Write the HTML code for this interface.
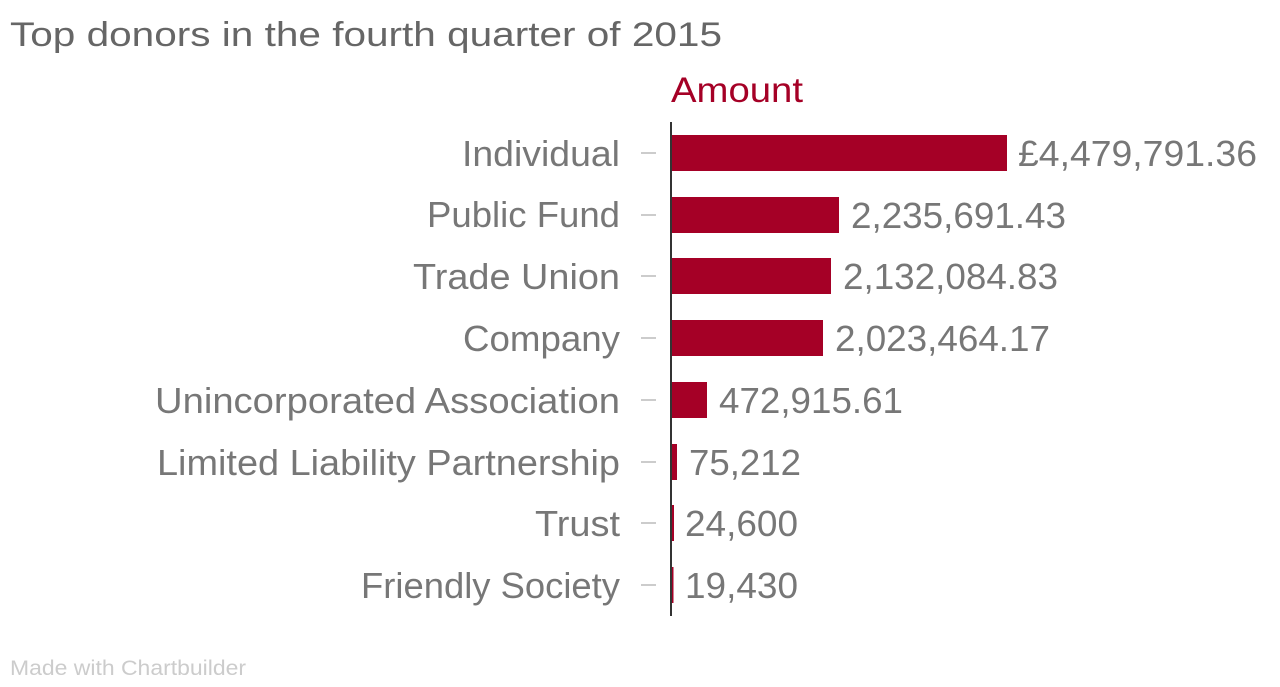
<!DOCTYPE html>
<html><head><style>
body{margin:0;width:1280px;height:682px;background:#fff;overflow:hidden;font-family:"Liberation Sans",sans-serif;}
</style></head><body>
<svg width="1280" height="682" xmlns="http://www.w3.org/2000/svg" font-family="Liberation Sans, sans-serif">
<text x="10" y="46" font-size="34" fill="#666" textLength="712" lengthAdjust="spacingAndGlyphs">Top donors in the fourth quarter of 2015</text>
<text x="671" y="102" font-size="35" fill="#a50026" textLength="132" lengthAdjust="spacingAndGlyphs">Amount</text>
<line x1="671" y1="122" x2="671" y2="616" stroke="#333" stroke-width="2"/>
<g font-size="36" fill="#777">
<g text-anchor="end">
<text x="620" y="166" textLength="158" lengthAdjust="spacingAndGlyphs">Individual</text>
<text x="620" y="227" textLength="193" lengthAdjust="spacingAndGlyphs">Public Fund</text>
<text x="620" y="289" textLength="207" lengthAdjust="spacingAndGlyphs">Trade Union</text>
<text x="620" y="351" textLength="157" lengthAdjust="spacingAndGlyphs">Company</text>
<text x="620" y="413" textLength="465" lengthAdjust="spacingAndGlyphs">Unincorporated Association</text>
<text x="620" y="475" textLength="463" lengthAdjust="spacingAndGlyphs">Limited Liability Partnership</text>
<text x="620" y="536" textLength="85" lengthAdjust="spacingAndGlyphs">Trust</text>
<text x="620" y="598" textLength="259" lengthAdjust="spacingAndGlyphs">Friendly Society</text>
</g>
<g stroke="#ccc" stroke-width="2">
<line x1="641" x2="656" y1="153" y2="153"/><line x1="641" x2="656" y1="215" y2="215"/>
<line x1="641" x2="656" y1="276" y2="276"/><line x1="641" x2="656" y1="338" y2="338"/>
<line x1="641" x2="656" y1="400" y2="400"/><line x1="641" x2="656" y1="462" y2="462"/>
<line x1="641" x2="656" y1="523" y2="523"/><line x1="641" x2="656" y1="585" y2="585"/>
</g>
<g fill="#a50026">
<rect x="672" y="135" width="335" height="36"/>
<rect x="672" y="197" width="167" height="36"/>
<rect x="672" y="258" width="159" height="36"/>
<rect x="672" y="320" width="151" height="36"/>
<rect x="672" y="382" width="35" height="36"/>
<rect x="672" y="444" width="5" height="36"/>
<rect x="672" y="505" width="2" height="36"/>
<rect x="672" y="567" width="1.5" height="36"/>
</g>
<text x="1018" y="166" textLength="239" lengthAdjust="spacingAndGlyphs">£4,479,791.36</text>
<text x="851" y="228" textLength="215" lengthAdjust="spacingAndGlyphs">2,235,691.43</text>
<text x="843" y="289" textLength="215" lengthAdjust="spacingAndGlyphs">2,132,084.83</text>
<text x="835" y="351" textLength="215" lengthAdjust="spacingAndGlyphs">2,023,464.17</text>
<text x="719" y="413" textLength="184" lengthAdjust="spacingAndGlyphs">472,915.61</text>
<text x="689" y="475" textLength="112" lengthAdjust="spacingAndGlyphs">75,212</text>
<text x="685" y="536" textLength="113" lengthAdjust="spacingAndGlyphs">24,600</text>
<text x="685" y="598" textLength="113" lengthAdjust="spacingAndGlyphs">19,430</text>
</g>
<text x="10" y="675" font-size="21" fill="#ccc" textLength="236" lengthAdjust="spacingAndGlyphs">Made with Chartbuilder</text>
</svg>
</body></html>
